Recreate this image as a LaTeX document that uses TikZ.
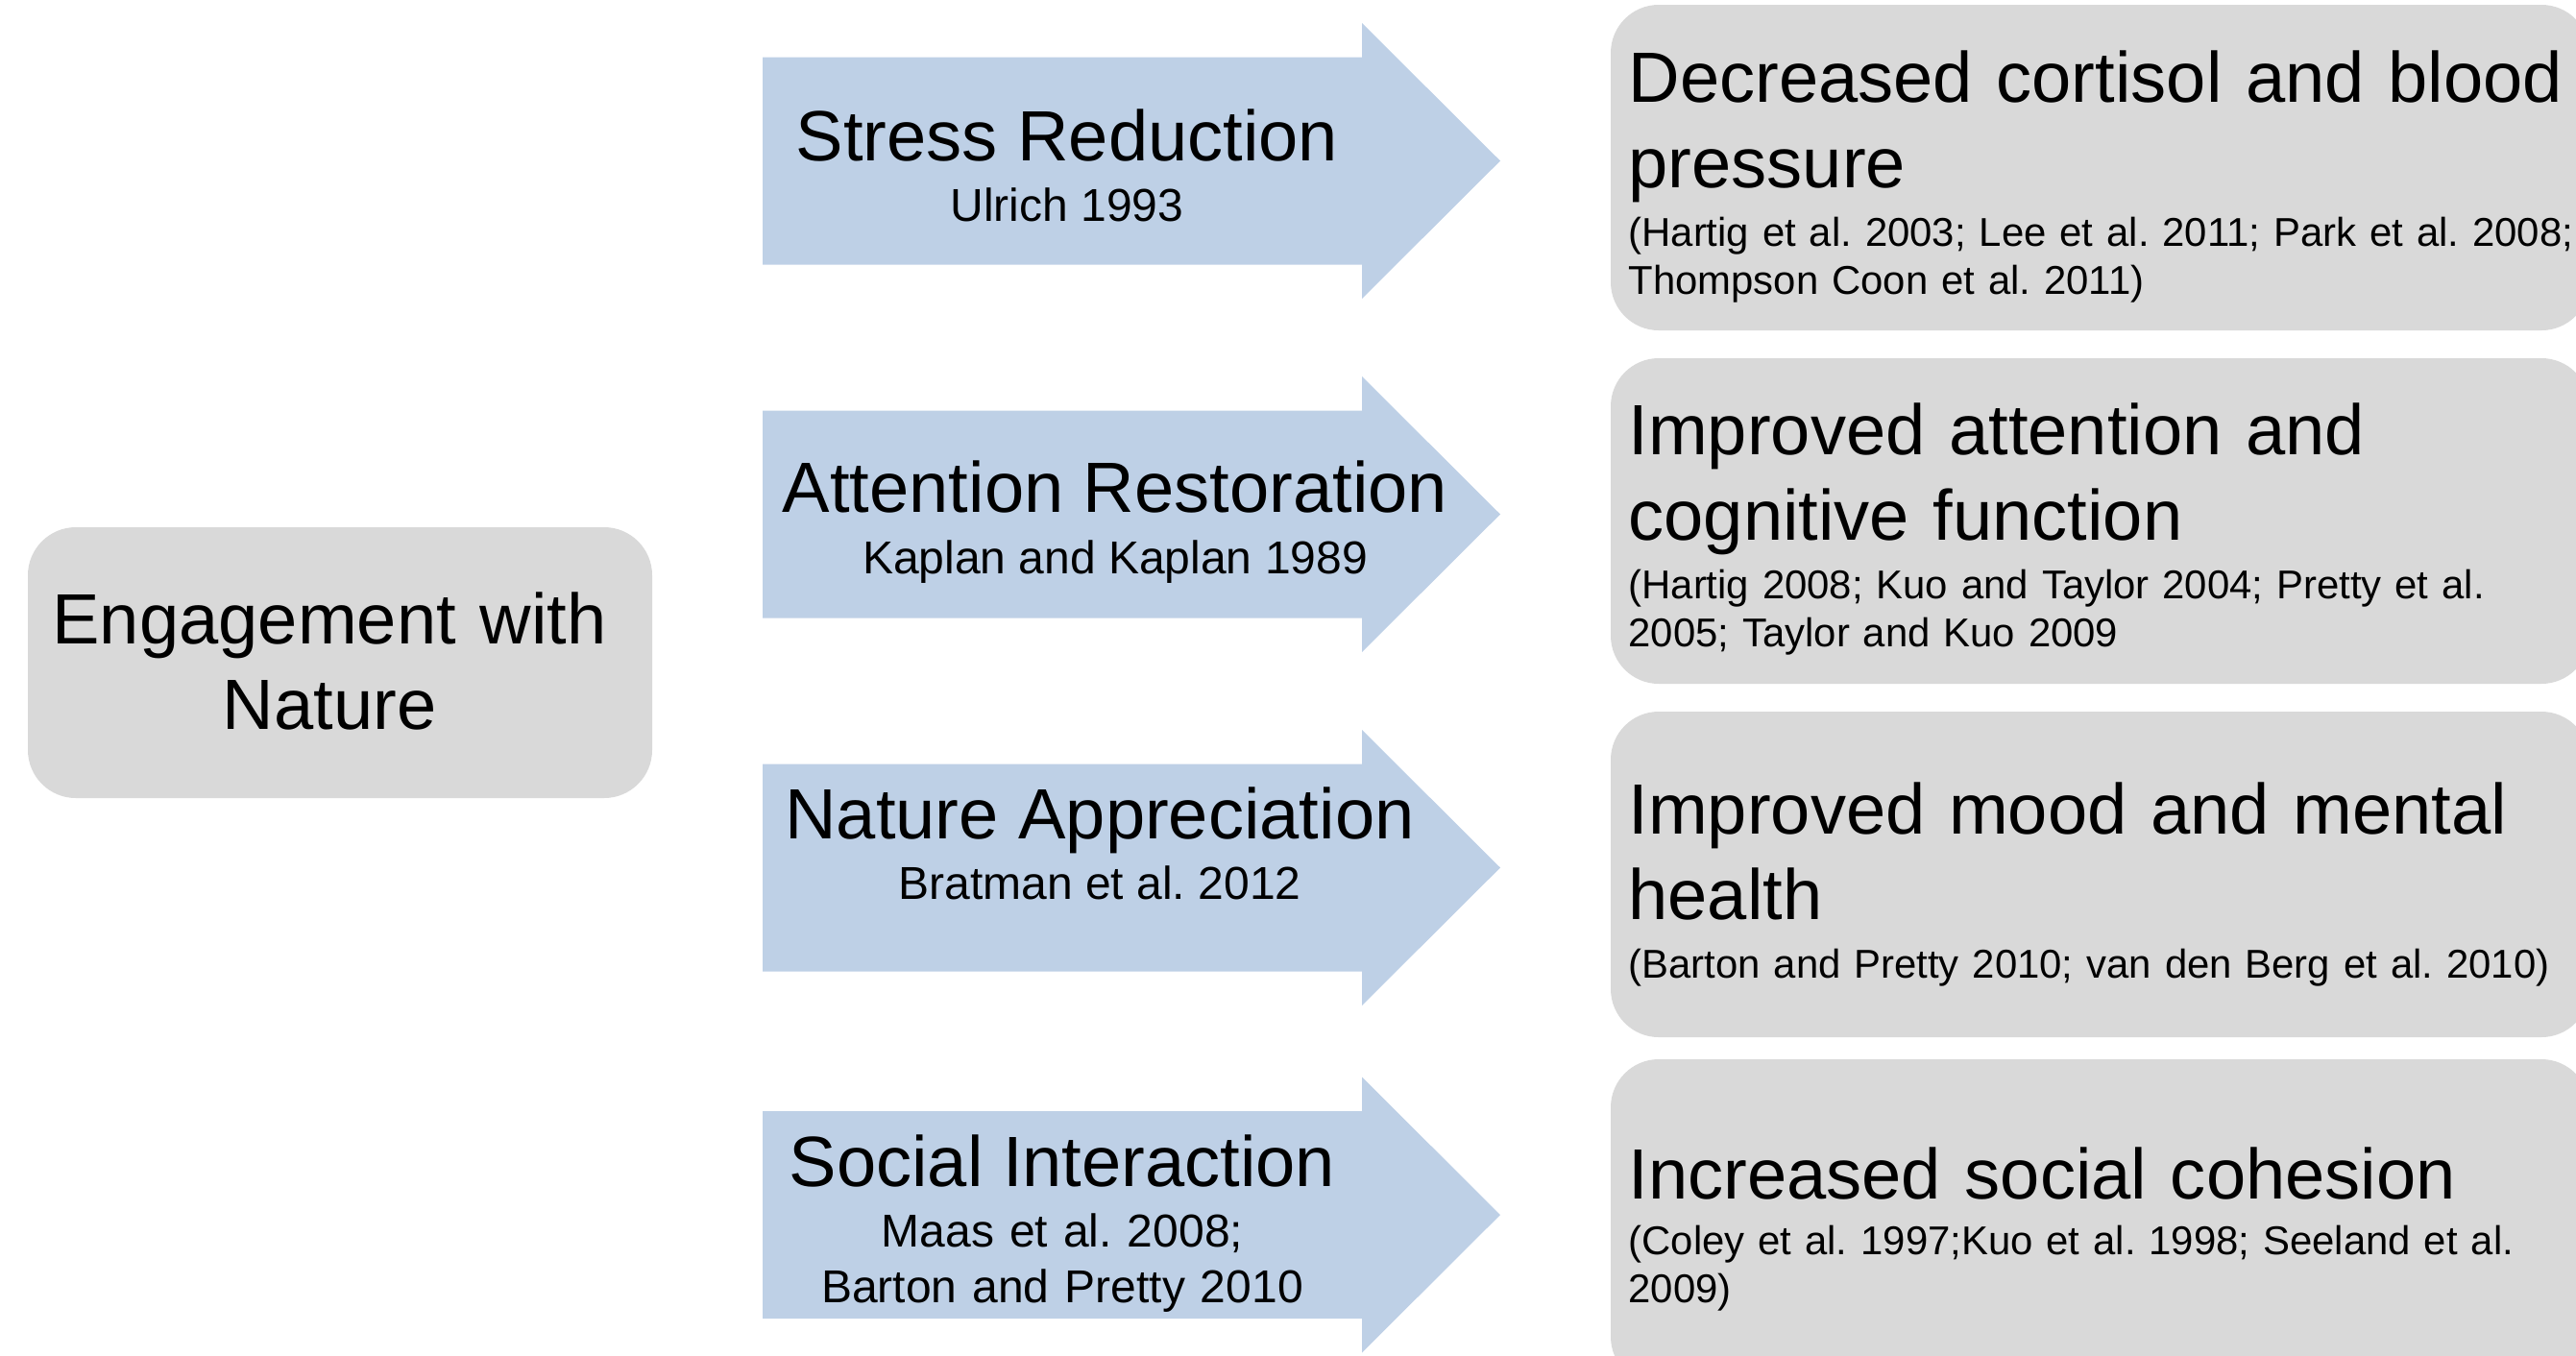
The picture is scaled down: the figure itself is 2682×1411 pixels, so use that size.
\documentclass[tikz,border=0pt]{standalone}
\usepackage{fontspec}
\setmainfont{Liberation Sans}
\frenchspacing

\definecolor{boxgrey}{RGB}{217,217,217}
\definecolor{arrowblue}{RGB}{190,208,230}

\tikzset{
  greybox/.style={fill=boxgrey,rounded corners=18.75pt},
  bigtext/.style={inner sep=0pt,font=\fontsize{27.8}{33.4}\selectfont},
  reftext/.style={inner sep=0pt,font=\fontsize{18}{21.75}\selectfont},
  citetext/.style={inner sep=0pt,font=\fontsize{15.7}{18.75}\selectfont},
  pics/fatarrow/.style={code={
    \fill[arrowblue] (0,-108) -- (624,-108) -- (624,-143.5) -- (768,0)
      -- (624,143.5) -- (624,108) -- (0,108) -- cycle;}}
}

\begin{document}
\begin{tikzpicture}[x=0.375pt,y=-0.375pt]
  \useasboundingbox (0,0) rectangle (2682,1411);
  \clip (0,0) rectangle (2682,1411);

  % starting point
  \fill[greybox] (29,549) rectangle (679,831);
  \node[bigtext,anchor=base,text width=300pt,align=center] (engage) at (343,670) {Engagement with\\Nature};

  % pathways
  \pic at (794,167.5) {fatarrow};
  \pic at (794,535.5) {fatarrow};
  \pic at (794,903.5) {fatarrow};
  \pic at (794,1265) {fatarrow};

  \node[bigtext,anchor=base] (stress) at (1111,167) {Stress Reduction};
  \node[reftext,anchor=base] (stressref) at (1111,230) {Ulrich 1993};
  \node[bigtext,anchor=base] (attention) at (1161,533) {Attention Restoration};
  \node[reftext,anchor=base] (attentionref) at (1161,597) {Kaplan and Kaplan 1989};
  \node[bigtext,anchor=base] (apprec) at (1145,873) {Nature Appreciation};
  \node[reftext,anchor=base] (apprecref) at (1145,936) {Bratman et al. 2012};
  \node[bigtext,anchor=base] (social) at (1106,1235) {Social Interaction};
  \node[reftext,anchor=base,text width=300pt,align=center] (socialref) at (1106,1298) {Maas et al. 2008;\\Barton and Pretty 2010};

  % outcomes
  \fill[greybox] (1677,5) rectangle (2696,344);
  \fill[greybox] (1677,373) rectangle (2696,712);
  \fill[greybox] (1677,741) rectangle (2696,1080);
  \fill[greybox] (1677,1103) rectangle (2696,1442);

  \node[bigtext,anchor=base west,text width=420pt,align=left] (cortisol) at (1695,106) {Decreased cortisol and blood\\pressure};
  \node[citetext,anchor=base west,text width=420pt,align=left] (cortisolcit) at (1695,256) {(Hartig et al. 2003; Lee et al. 2011; Park et al. 2008;\\Thompson Coon et al. 2011)};
  \node[bigtext,anchor=base west,text width=420pt,align=left] (cognition) at (1695,473) {Improved attention and\\cognitive function};
  \node[citetext,anchor=base west,text width=420pt,align=left] (cognitioncit) at (1695,623) {(Hartig 2008; Kuo and Taylor 2004; Pretty et al.\\2005; Taylor and Kuo 2009};
  \node[bigtext,anchor=base west,text width=420pt,align=left] (mood) at (1695,868) {Improved mood and mental\\health};
  \node[citetext,anchor=base west,text width=420pt,align=left] (moodcit) at (1695,1018) {(Barton and Pretty 2010; van den Berg et al. 2010)};
  \node[bigtext,anchor=base west,text width=420pt,align=left] (cohesion) at (1695,1248) {Increased social cohesion};
  \node[citetext,anchor=base west,text width=420pt,align=left] (cohesioncit) at (1695,1306) {(Coley et al. 1997;Kuo et al. 1998; Seeland et al.\\2009)};
\end{tikzpicture}
\end{document}
